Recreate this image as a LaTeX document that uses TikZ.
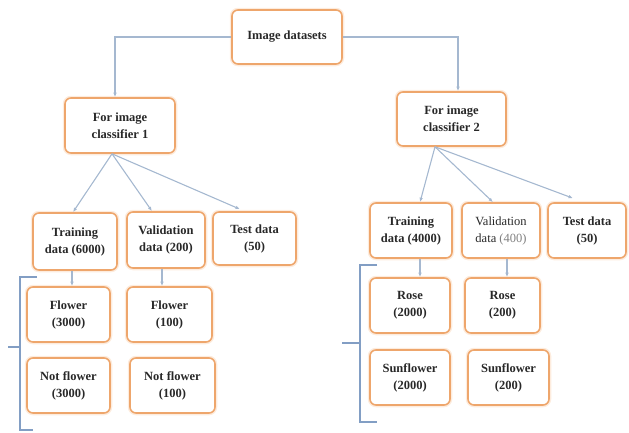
\documentclass[tikz,border=0pt]{standalone}
\usepackage{fontspec}
\setmainfont{Liberation Serif}
\usetikzlibrary{arrows.meta}
\definecolor{boxline}{RGB}{238,166,108}
\definecolor{boxglow}{RGB}{253,236,222}
\definecolor{arrline}{RGB}{165,184,208}
\definecolor{braceline}{RGB}{130,158,196}
\definecolor{txtgray}{RGB}{40,40,40}

\begin{document}
\begin{tikzpicture}[
    dbase/.style  = {draw=boxline, line width=1.6pt, fill=white,
                     rounded corners=6pt, align=center, inner sep=2pt,
                     text=txtgray,
                     font=\fontsize{12.5}{17}\selectfont\bfseries,
                     preaction={draw=boxglow, line width=4.5pt}},
    dbox/.style   = {dbase, minimum height=55pt},
    dplain/.style = {dbox, font=\fontsize{12.5}{17}\selectfont},
    arr/.style    = {-{Latex[length=4.5pt,width=3.5pt]}, line width=1.1pt,
                     draw=arrline},
    brace/.style  = {line width=1.1pt, draw=braceline},
  ]
  \useasboundingbox (0pt,0pt) rectangle (629pt,-432pt);

  \node[dbox, minimum width=110pt, minimum height=54pt] (ds) at (287pt, -37pt) {Image datasets};
  \node[dbox, minimum width=110pt] (C1) at (120pt, -125.5pt) {For image\\classifier 1};
  \node[dbox, minimum width=109pt, minimum height=54pt] (C2) at (451.5pt, -119pt) {For image\\classifier 2};

  \node[dbox, minimum width=84pt, minimum height=57pt] (T1) at (75pt, -241.5pt) {Training\\data (6000)};
  \node[dbox, minimum width=78pt, minimum height=56pt] (V1) at (166pt, -240pt) {Validation\\data (200)};
  \node[dbox, minimum width=83pt, minimum height=53pt] (E1) at (254.5pt, -238.5pt) {Test data\\(50)};
  \node[dbox, minimum width=83pt] (F1) at (68.5pt, -314.5pt) {Flower\\(3000)};
  \node[dbox, minimum width=85pt] (F2) at (169.5pt, -314.5pt) {Flower\\(100)};
  \node[dbox, minimum width=83pt] (N1) at (68.5pt, -385.5pt) {Not flower\\(3000)};
  \node[dbox, minimum width=85pt] (N2) at (172.5pt, -385.5pt) {Not flower\\(100)};

  \node[dbox, minimum width=82pt] (T2) at (411pt, -230.5pt) {Training\\data (4000)};
  \node[dplain, minimum width=78pt] (V2) at (501pt, -230.5pt) {Validation\\data \textcolor{gray}{(400)}};
  \node[dbox, minimum width=78pt] (E2) at (587pt, -230.5pt) {Test data\\(50)};
  \node[dbox, minimum width=80pt] (R1) at (410pt, -305.5pt) {Rose\\(2000)};
  \node[dbox, minimum width=75pt] (R2) at (502.5pt, -305.5pt) {Rose\\(200)};
  \node[dbox, minimum width=80pt] (S1) at (410pt, -377.5pt) {Sunflower\\(2000)};
  \node[dbox, minimum width=81pt] (S2) at (508.5pt, -377.5pt) {Sunflower\\(200)};

  \draw[arr] (ds.west) -| ([xshift=-5pt]C1.north);
  \draw[arr] (ds.east) -| ([xshift=6.5pt]C2.north);
  \draw[arr] ([xshift=-8pt]C1.south) -- ([xshift=-2pt]T1.north);
  \draw[arr] ([xshift=-8pt]C1.south) -- ([xshift=-14pt]V1.north);
  \draw[arr] ([xshift=-8pt]C1.south) -- ([xshift=-14.5pt,yshift=2pt]E1.north);
  \draw[arr] ([xshift=-16.5pt]C2.south) -- ([xshift=9pt]T2.north);
  \draw[arr] ([xshift=-16.5pt]C2.south) -- ([xshift=-8pt]V2.north);
  \draw[arr] ([xshift=-16.5pt]C2.south) -- ([xshift=-14pt,yshift=4pt]E2.north);
  \draw[arr] ([xshift=-3pt]T1.south) -- ([xshift=-3pt]T1.south |- F1.north);
  \draw[arr] ([xshift=-4pt]V1.south) -- ([xshift=-4pt]V1.south |- F2.north);
  \draw[arr] ([xshift=9pt]T2.south) -- ([xshift=9pt]T2.south |- R1.north);
  \draw[arr] ([xshift=6pt]V2.south) -- ([xshift=6pt]V2.south |- R2.north);

  % grouping brackets
  \draw[brace] (37pt,-277pt) -- (20pt,-277pt) -- (20pt,-430pt) -- (33pt,-430pt);
  \draw[brace] (20pt,-347pt) -- (8pt,-347pt);
  \draw[brace] (377pt,-265pt) -- (360pt,-265pt) -- (360pt,-422pt) -- (377pt,-422pt);
  \draw[brace] (360pt,-343pt) -- (342pt,-343pt);

\end{tikzpicture}
\end{document}
